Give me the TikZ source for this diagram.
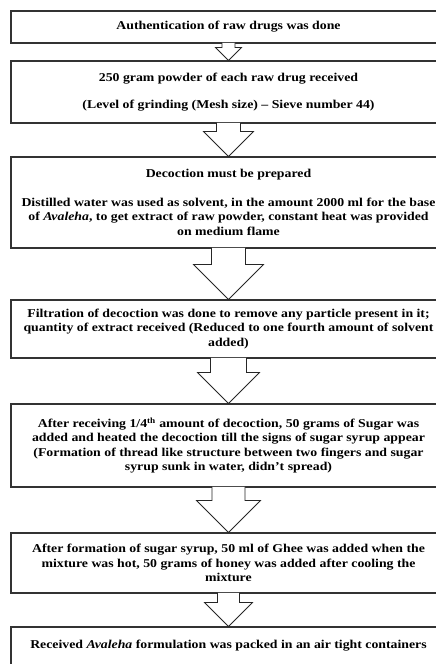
\documentclass[tikz,border=0pt]{standalone}
\usepackage{fontspec}
\setmainfont{Liberation Serif}[FakeStretch=1.15]
\usetikzlibrary{calc, positioning}

% block arrow from one box to the next: stem half width, head half width, from, to
\newcommand{\flowarrow}[4]{%
    \path[arrowline] let \p1=(#3.south), \p2=(#4.north) in
        (\x1-#1pt,\y1+0.6pt) -- (\x1-#1pt,\y2+#2pt) -- (\x1-#2pt,\y2+#2pt) -- (\x2,\y2)
        -- (\x1+#2pt,\y2+#2pt) -- (\x1+#1pt,\y2+#2pt) -- (\x1+#1pt,\y1+0.6pt);
}

\begin{document}
\begin{tikzpicture}[x=1pt, y=-1pt,
        stepbox/.style={draw=black!80, line width=1.1pt, fill=white, minimum width=435pt,
            align=center, inner xsep=3pt, font=\fontsize{12}{14.5}\selectfont\bfseries},
        arrowline/.style={draw=black!85, line width=0.8pt, fill=white, line join=miter}]
    \clip (0,0) rectangle (436,664);
    \node[stepbox, minimum height=32pt] (auth) at (228.5,27) {Authentication of raw drugs was done};
    \node[stepbox, minimum height=62pt] (powder) at (228.5,92) {250 gram powder of each raw drug received\\[13pt]
        (Level of grinding (Mesh size) -- Sieve number 44)};
    \node[stepbox, minimum height=91pt] (decoct) at (228.5,202.5) {Decoction must be prepared\\[14pt]
        Distilled water was used as solvent, in the amount 2000 ml for the base\\
        of \textit{Avaleha}, to get extract of raw powder, constant heat was provided\\
        on medium flame};
    \node[stepbox, minimum height=58pt] (filter) at (228.5,329) {Filtration of decoction was done to remove any particle present in it;\\
        quantity of extract received (Reduced to one fourth amount of solvent\\
        added)};
    \node[stepbox, minimum height=83pt] (sugar) at (228.5,445.5) {After receiving 1/4\textsuperscript{th} amount of decoction, 50 grams of Sugar was\\
        added and heated the decoction till the signs of sugar syrup appear\\
        (Formation of thread like structure between two fingers and sugar\\
        syrup sunk in water, didn’t spread)};
    \node[stepbox, minimum height=60pt] (ghee) at (228.5,563) {After formation of sugar syrup, 50 ml of Ghee was added when the\\
        mixture was hot, 50 grams of honey was added after cooling the\\
        mixture};
    \node[stepbox, minimum height=50pt] (packed) at (228.5,652) {Received \textit{Avaleha} formulation was packed in an air tight containers\\ \mbox{}};

    \flowarrow{6.5}{13}{auth}{powder}
    \flowarrow{12}{25}{powder}{decoct}
    \flowarrow{17}{35}{decoct}{filter}
    \flowarrow{18}{31}{filter}{sugar}
    \flowarrow{16.5}{32}{sugar}{ghee}
    \flowarrow{11}{24}{ghee}{packed}
\end{tikzpicture}
\end{document}
